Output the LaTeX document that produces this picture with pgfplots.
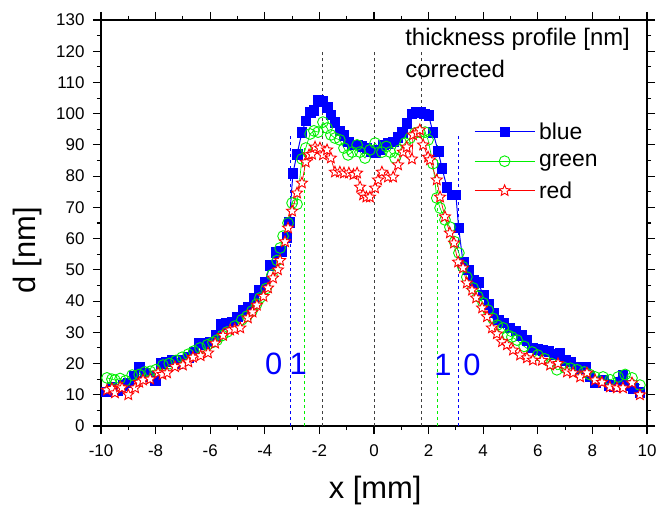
\documentclass[border=0pt]{standalone}
\usepackage{fontspec}
\setmainfont{Liberation Sans}
\usepackage{pgfplots}
\pgfplotsset{compat=1.18}
\definecolor{pblue}{RGB}{0,0,255}
\definecolor{pgreen}{RGB}{0,240,0}
\definecolor{pred}{RGB}{255,0,0}
\pgfdeclareplotmark{ostar}{%
  \pgfpathmoveto{\pgfpointpolar{90}{\pgfplotmarksize}}%
  \pgfpathlineto{\pgfpointpolar{126}{0.45\pgfplotmarksize}}%
  \pgfpathlineto{\pgfpointpolar{162}{\pgfplotmarksize}}%
  \pgfpathlineto{\pgfpointpolar{198}{0.45\pgfplotmarksize}}%
  \pgfpathlineto{\pgfpointpolar{234}{\pgfplotmarksize}}%
  \pgfpathlineto{\pgfpointpolar{270}{0.45\pgfplotmarksize}}%
  \pgfpathlineto{\pgfpointpolar{306}{\pgfplotmarksize}}%
  \pgfpathlineto{\pgfpointpolar{342}{0.45\pgfplotmarksize}}%
  \pgfpathlineto{\pgfpointpolar{18}{\pgfplotmarksize}}%
  \pgfpathlineto{\pgfpointpolar{54}{0.45\pgfplotmarksize}}%
  \pgfpathclose
  \pgfusepathqfillstroke
}
\begin{document}
\begin{tikzpicture}
\begin{axis}[
  scale only axis, width=546bp, height=406bp,
  xmin=-10, xmax=10, ymin=0, ymax=130,
  xtick={-10,-8,...,10}, ytick={0,10,...,130},
  minor x tick num=1, minor y tick num=1,
  tick align=outside,
  major tick length=8bp, minor tick length=4bp,
  axis line style={line width=1.3bp},
  every tick/.style={line width=1.1bp, black},
  tick label style={font=\fontsize{17}{17}\selectfont},
  xticklabel style={yshift=-7bp},
  yticklabel style={xshift=-5bp},
  /pgf/number format/assume math mode=true,
  xlabel={x [mm]}, ylabel={d [nm]},
  label style={font=\fontsize{31}{31}\selectfont},
  xlabel style={at={(axis description cs:0.502,-0.158)}, anchor=center},
  ylabel style={at={(axis description cs:-0.1355,0.433)}, anchor=center},
  legend style={draw=none, fill=none, at={(0.683,0.75)}, anchor=north west,
    font=\fontsize{23}{23}\selectfont, row sep=11.5bp, inner sep=0pt,
    nodes={inner xsep=4bp, inner ysep=1bp}},
  legend cell align=left,
  legend image code/.code={\draw[mark repeat=2,mark phase=2,#1] plot coordinates {(0bp,0bp) (30bp,0bp) (60bp,0bp)};},
]
% vertical dashed guides
\addplot[draw=black!75, dashed, line width=0.9bp, forget plot] coordinates {(-1.9,0) (-1.9,120)};
\addplot[draw=black!75, dashed, line width=0.9bp, forget plot] coordinates {(0,0) (0,120)};
\addplot[draw=black!75, dashed, line width=0.9bp, forget plot] coordinates {(1.75,0) (1.75,120)};
\addplot[draw=pblue, dashed, line width=0.9bp, forget plot] coordinates {(-3.05,0) (-3.05,93)};
\addplot[draw=pblue, dashed, line width=0.9bp, forget plot] coordinates {(3.1,0) (3.1,93)};
\addplot[draw=pgreen, dashed, line width=1.1bp, forget plot] coordinates {(-2.55,0) (-2.55,89)};
\addplot[draw=pgreen, dashed, line width=1.1bp, forget plot] coordinates {(2.33,0) (2.33,90)};

\addplot[color=pblue, draw=pblue, line width=1.0bp, mark=square*, mark size=4.8bp, mark options={solid, fill=pblue, draw=pblue, line width=0.6bp}] coordinates {
(-9.8,11) (-9.6,12.5) (-9.4,11.5) (-9.2,13) (-9.0,13.8) (-8.8,16) (-8.6,19) (-8.4,17) (-8.2,16) (-8.0,14.7)
(-7.8,20) (-7.6,20.5) (-7.4,21) (-7.2,20) (-7.0,21) (-6.8,22) (-6.6,23.8) (-6.4,26.6) (-6.2,26) (-6.0,27)
(-5.8,29) (-5.6,32.5) (-5.4,33) (-5.2,33.3) (-5.0,35) (-4.8,37) (-4.6,38) (-4.4,41) (-4.2,43.5) (-4.0,46)
(-3.8,51.5) (-3.6,55.7) (-3.4,56) (-3.2,60.5) (-3.1,65.3) (-2.97,81) (-2.82,87) (-2.64,94) (-2.5,97.7) (-2.34,100.5)
(-2.2,101) (-2.05,104.2) (-1.87,104) (-1.72,102) (-1.58,99.6) (-1.43,97.3) (-1.25,94.5) (-1.1,93) (-0.95,91) (-0.8,90)
(-0.62,90) (-0.44,89.5) (-0.26,89) (-0.1,88) (0.05,87.5) (0.2,88.5) (0.33,90) (0.5,90.5) (0.7,91) (0.87,92.5)
(1.03,94) (1.2,97) (1.39,100) (1.55,100.5) (1.7,100.5) (1.85,100) (2.0,99.5) (2.16,94) (2.35,88) (2.49,82.6)
(2.67,76.5) (2.86,74) (3.0,74) (3.1,63.5) (3.26,52.5) (3.45,50) (3.63,46.7) (3.81,46) (4.0,42) (4.2,39)
(4.36,36.2) (4.55,34) (4.75,33) (4.98,31.4) (5.2,30.5) (5.4,29) (5.6,27.5) (5.8,25) (6.0,24.5) (6.19,24.3)
(6.4,24) (6.6,23) (6.81,23.5) (7.0,21) (7.2,20.5) (7.4,19) (7.6,18.5) (7.73,19) (7.9,16) (8.1,14)
(8.39,14.7) (8.6,13) (8.8,12.5) (9.0,14) (9.12,16.3) (9.3,13) (9.5,12) (9.74,10.8)
};
\addlegendentry{blue}

\addplot[color=pgreen, draw=pgreen, line width=0.7bp, mark=o, mark size=5.4bp, mark options={solid, draw=pgreen, line width=0.9bp}] coordinates {
(-9.78,15.4) (-9.6,15) (-9.49,14.7) (-9.3,15.2) (-9.1,14.5) (-8.86,16.3) (-8.6,16.5) (-8.39,17.3) (-8.2,17.5) (-8.0,18)
(-7.73,19.5) (-7.5,20) (-7.25,21) (-7.03,22) (-6.8,23) (-6.6,24) (-6.37,25) (-6.1,26) (-5.9,26.8) (-5.75,27.5)
(-5.55,29) (-5.38,30.1) (-5.1,32) (-4.84,34) (-4.65,35.2) (-4.47,36.8) (-4.3,39) (-4.18,41) (-3.95,44) (-3.74,48.4)
(-3.55,53) (-3.44,57) (-3.33,60.8) (-3.15,65) (-3.0,71.4) (-2.82,71) (-2.64,85.5) (-2.5,89) (-2.34,93.5) (-2.2,94.5)
(-2.05,94.1) (-1.87,97.3) (-1.72,95.4) (-1.58,93.2) (-1.43,92.2) (-1.25,91.6) (-1.1,89) (-0.95,86.8) (-0.8,87.7) (-0.62,90)
(-0.51,87.7) (-0.33,85.8) (-0.15,88.4) (0.04,90.6) (0.29,87.7) (0.45,89.5) (0.59,87.7) (0.77,85.8) (0.95,88.4) (1.14,90.6)
(1.32,92.2) (1.5,93.8) (1.68,94.1) (1.87,94.1) (1.98,91.6) (2.16,84) (2.3,73) (2.42,69.8) (2.6,66) (2.78,63.7)
(2.95,59) (3.11,55.4) (3.25,51) (3.4,47.7) (3.63,44.2) (3.8,41.5) (4.0,39.4) (4.18,37.1) (4.35,34.5) (4.51,32.3)
(4.73,31.4) (4.9,29.1) (5.05,28.5) (5.24,27.5) (5.5,25.5) (5.79,23.7) (6.0,22.7) (6.25,21.5) (6.5,20) (6.7,18)
(6.99,18.6) (7.2,18.5) (7.44,18) (7.7,17.3) (7.9,16.5) (8.1,15.7) (8.39,15.7) (8.65,14.8) (8.94,15.7) (9.2,16.5)
(9.45,15.4) (9.74,13.1)
};
\addlegendentry{green}

\addplot[color=pred, draw=pred, line width=0.7bp, mark=ostar, mark size=5.8bp, mark options={solid, draw=pred, fill=white, line width=0.9bp}] coordinates {
(-9.78,11.5) (-9.6,12) (-9.49,10.6) (-9.3,12.5) (-9.23,12.2) (-9.0,10) (-8.75,12.2) (-8.6,14) (-8.46,14.7) (-8.2,15)
(-7.91,17) (-7.75,16.5) (-7.58,17) (-7.29,19) (-7.0,19.5) (-6.8,20.5) (-6.63,22) (-6.35,22.5) (-6.08,23.4) (-5.82,26.5)
(-5.53,29) (-5.27,30.7) (-5.1,31) (-4.9,31.4) (-4.62,34.6) (-4.45,36.5) (-4.29,38.7) (-4.05,41.5) (-3.88,44.2) (-3.7,47.4)
(-3.52,50) (-3.44,53) (-3.26,59) (-3.15,63.4) (-3.0,68.8) (-2.82,74.6) (-2.64,77.8) (-2.5,84.5) (-2.38,86.8) (-2.27,87)
(-2.16,89.3) (-1.98,89) (-1.87,86.8) (-1.72,88.4) (-1.58,85.8) (-1.43,81.3) (-1.25,81.3) (-1.1,81) (-0.92,81) (-0.75,80.5)
(-0.62,81) (-0.51,76.5) (-0.4,74) (-0.28,73.3) (-0.15,73.3) (0.04,76.2) (0.15,78.8) (0.29,81.3) (0.51,79.7) (0.7,79.7)
(0.88,83.6) (1.06,87.7) (1.2,89.3) (1.39,85.5) (1.43,93.2) (1.58,93.8) (1.68,94.8) (1.8,90) (1.98,86.1) (2.05,85.2)
(2.3,78.8) (2.42,73.3) (2.6,67) (2.78,61.8) (2.93,58.6) (3.08,52.5) (3.26,50.6) (3.4,45.8) (3.59,43.5) (3.74,41)
(3.96,37.8) (4.14,35) (4.32,31.4) (4.5,29.5) (4.69,27) (4.87,26) (5.09,24.3) (5.35,22.7) (5.6,21.8) (5.82,21.1)
(6.15,21) (6.45,19.5) (6.74,20) (7.07,17.3) (7.29,17) (7.55,15.7) (7.8,17) (8.1,14.7) (8.35,14) (8.64,12.5)
(8.9,12.2) (9.12,12.2) (9.45,13.8) (9.74,10)
};
\addlegendentry{red}

\node[anchor=base west, font=\fontsize{24}{24}\selectfont, inner sep=0pt] at (axis cs:1.14,121.7) {thickness profile [nm]};
\node[anchor=base west, font=\fontsize{24}{24}\selectfont, inner sep=0pt] at (axis cs:1.14,111.7) {corrected};
\node[pblue, font=\fontsize{31}{31}\selectfont, inner sep=0pt] at (axis cs:-3.67,19.9) {0};
\node[pblue, font=\fontsize{31}{31}\selectfont, inner sep=0pt] at (axis cs:-2.78,19.9) {1};
\node[pblue, font=\fontsize{31}{31}\selectfont, inner sep=0pt] at (axis cs:2.53,19.5) {1};
\node[pblue, font=\fontsize{31}{31}\selectfont, inner sep=0pt] at (axis cs:3.59,19.5) {0};
\end{axis}
\pgfresetboundingbox
\path[use as bounding box] ([xshift=-101bp,yshift=-81bp]current axis.south west) rectangle ([xshift=10bp,yshift=20bp]current axis.north east);
\end{tikzpicture}
\end{document}
